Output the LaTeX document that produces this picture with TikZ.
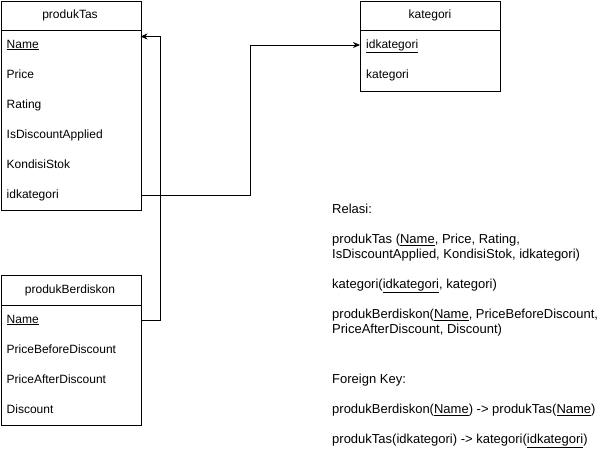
\documentclass[tikz,border=0pt]{standalone}
\usepackage{fontspec}
\setmainfont{Liberation Sans}
\usetikzlibrary{arrows.meta}
\begin{document}
\begin{tikzpicture}[x=1pt,y=-1pt,
  every node/.style={font=\fontsize{12}{15}\selectfont, text=black},
  tblbox/.style={draw, line width=0.9pt, minimum width=140pt, anchor=north west, inner sep=0pt},
  hdrtext/.style={anchor=center, inner sep=0pt},
  rowcell/.style={anchor=west, inner xsep=6pt, inner ysep=0pt, text width=128pt, align=left, minimum height=30pt, text height=9pt, text depth=3pt},
  reltext/.style={anchor=west, inner sep=0pt, text height=9.5pt, text depth=3pt, font=\fontsize{13}{15}\selectfont},
  conn/.style={draw, line width=0.9pt},
  arr/.style={conn, -{Stealth[length=7pt,width=6pt]}}
]
\useasboundingbox (0,0) rectangle (601,451);

% produkTas
\node[tblbox, minimum height=209pt] (pt) at (0.5,0.5) {};
\node[hdrtext] (pth) at (70,15) {produkTas};
\draw[line width=0.9pt] (pt.north west |- 0,30) -- (pt.north east |- 0,30);
\node[rowcell] (ptname) at (0.5,45) {\underline{Name}};
\node[rowcell] (ptprice) at (0.5,75) {Price};
\node[rowcell] (ptrating) at (0.5,105) {Rating};
\node[rowcell] (ptdisc) at (0.5,135) {IsDiscountApplied};
\node[rowcell] (ptstok) at (0.5,165) {KondisiStok};
\node[rowcell] (ptidk) at (0.5,195) {idkategori};

% kategori
\node[tblbox, minimum height=90pt] (kt) at (360,0.5) {};
\node[hdrtext] (kth) at (430,15) {kategori};
\draw[line width=0.9pt] (kt.north west |- 0,30) -- (kt.north east |- 0,30);
\node[rowcell] (ktidk) at (360,45) {\underline{idkategori}};
\node[rowcell] (ktkat) at (360,75) {kategori};

% produkBerdiskon
\node[tblbox, minimum height=150pt] (pb) at (0.5,275) {};
\node[hdrtext] (pbh) at (70,290) {produkBerdiskon};
\draw[line width=0.9pt] (pb.north west |- 0,305) -- (pb.north east |- 0,305);
\node[rowcell] (pbname) at (0.5,320) {\underline{Name}};
\node[rowcell] (pbbefore) at (0.5,350) {PriceBeforeDiscount};
\node[rowcell] (pbafter) at (0.5,380) {PriceAfterDiscount};
\node[rowcell] (pbdisc) at (0.5,410) {Discount};

% connectors
\coordinate (ptin) at (140.5,36.5);
\draw[arr] (pbname.east) -- (160.5,320) |- (ptin);
\draw[arr] (ptidk.east) -- (250.5,195) |- (ktidk.west);

% relations text
\node[reltext] (r1) at (332,210) {Relasi:};
\node[reltext] (r2) at (332,240) {produkTas (\underline{Name}, Price, Rating,};
\node[reltext] (r3) at (332,255) {IsDiscountApplied, KondisiStok, idkategori)};
\node[reltext] (r4) at (332,285) {kategori(\underline{idkategori}, kategori)};
\node[reltext] (r5) at (332,315) {produkBerdiskon(\underline{Name}, PriceBeforeDiscount,};
\node[reltext] (r6) at (332,330) {PriceAfterDiscount, Discount)};
\node[reltext] (r7) at (332,380) {Foreign Key:};
\node[reltext] (r8) at (332,410) {produkBerdiskon(\underline{Name}) -> produkTas(\underline{Name})};
\node[reltext] (r9) at (332,440) {produkTas(idkategori) -> kategori(\underline{idkategori})};
\end{tikzpicture}
\end{document}
